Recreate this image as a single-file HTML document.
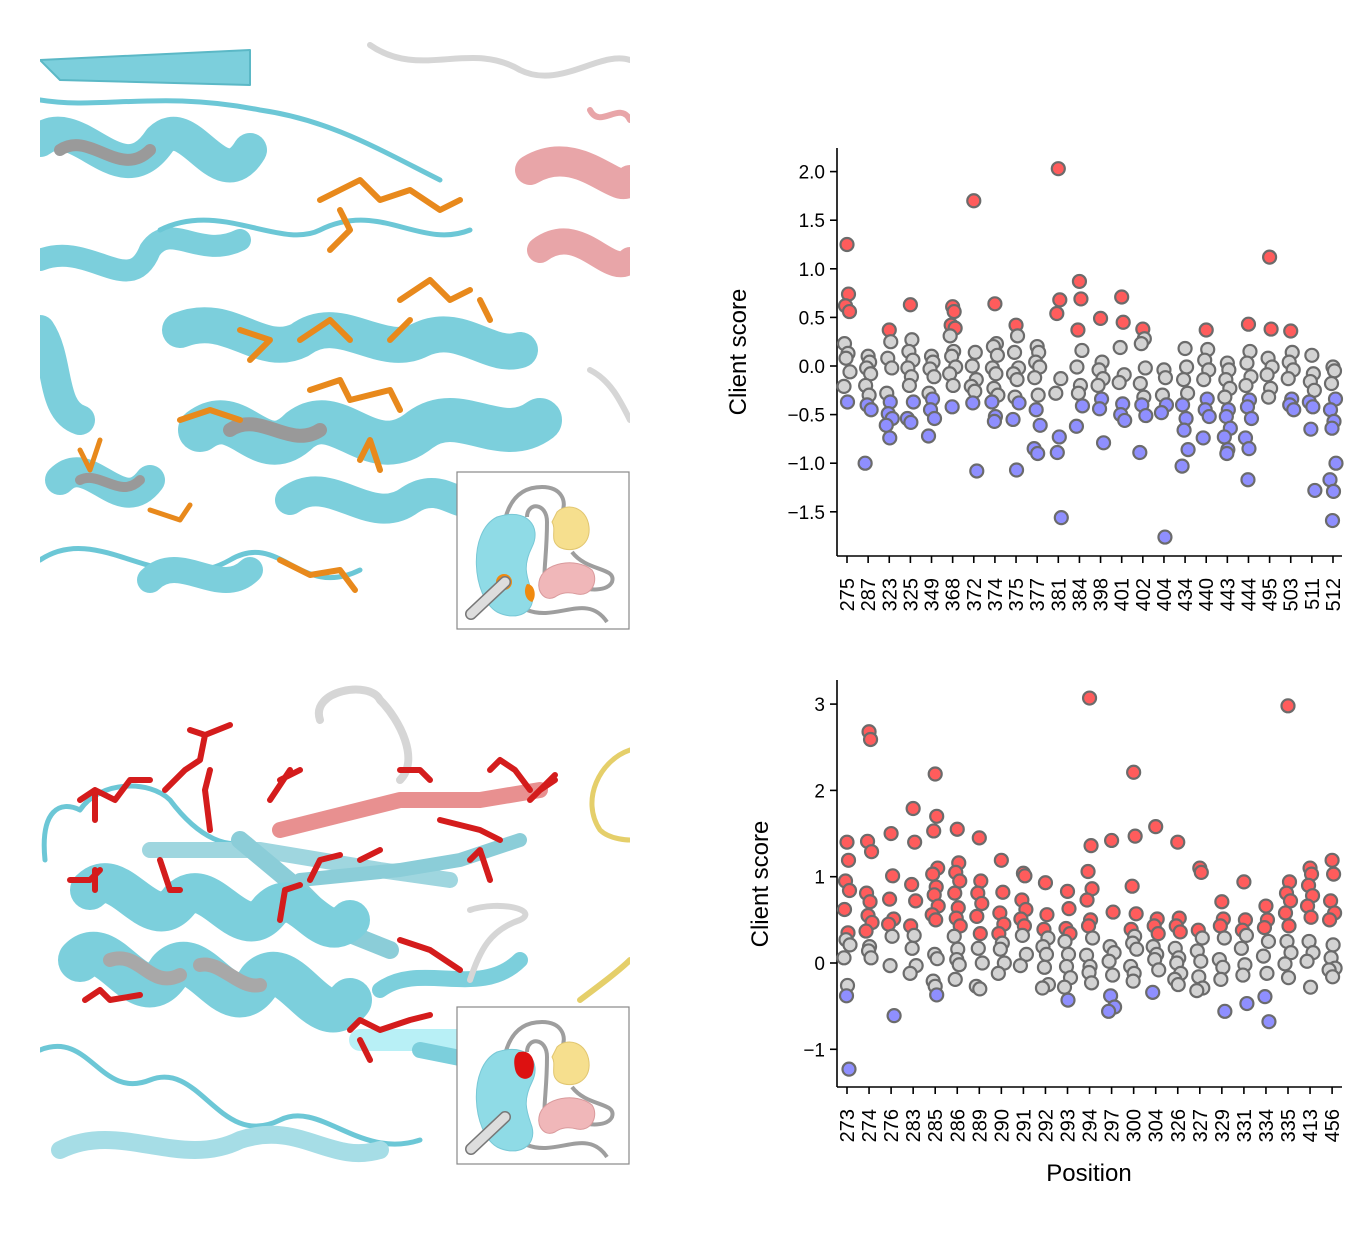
<!DOCTYPE html>
<html><head><meta charset="utf-8">
<style>
html,body{margin:0;padding:0;background:#fff;}
svg{display:block;font-family:"Liberation Sans","DejaVu Sans",sans-serif;}
</style></head>
<body>
<svg id="fig" width="1370" height="1244" viewBox="0 0 1370 1244" xmlns="http://www.w3.org/2000/svg">
<defs>
<clipPath id="clipTop"><rect x="40" y="40" width="590" height="590"/></clipPath>
<clipPath id="clipBot"><rect x="40" y="675" width="590" height="490"/></clipPath>
</defs>

<!-- Top protein panel -->
<g clip-path="url(#clipTop)" fill="none" stroke-linecap="round" stroke-linejoin="round">
  <path d="M40 60 L250 50 L250 85 L60 80 Z" fill="#7ccfdc" stroke="#5bb8c6" stroke-width="2"/>
  <path d="M370 45 C420 80 470 40 520 70 C560 90 600 50 630 60" stroke="#d6d6d6" stroke-width="6"/>
  <path d="M40 140 C80 110 120 200 160 140 C190 110 220 200 250 150" stroke="#7ccfdc" stroke-width="34"/>
  <path d="M60 150 C90 130 120 180 150 150" stroke="#9a9a9a" stroke-width="12"/>
  <path d="M40 100 C100 110 160 90 260 110 C330 120 380 150 440 180" stroke="#6cc7d6" stroke-width="5"/>
  <path d="M40 260 C90 240 130 300 150 250 C170 220 200 260 240 240" stroke="#7ccfdc" stroke-width="22"/>
  <path d="M160 230 C220 200 280 250 320 230 C380 200 420 250 470 230" stroke="#6cc7d6" stroke-width="5"/>
  <path d="M40 330 C60 360 50 410 80 420" stroke="#7ccfdc" stroke-width="30"/>
  <path d="M180 330 C230 310 260 360 300 340 C340 310 380 360 420 340 C460 320 490 360 520 350" stroke="#7ccfdc" stroke-width="36"/>
  <path d="M200 430 C240 400 260 470 300 430 C340 400 370 470 420 430 C460 400 500 450 540 420" stroke="#7ccfdc" stroke-width="44"/>
  <path d="M230 430 C260 410 290 450 320 430" stroke="#999" stroke-width="14"/>
  <path d="M60 480 C90 450 120 520 150 480" stroke="#7ccfdc" stroke-width="30"/>
  <path d="M80 480 C100 470 120 500 140 480" stroke="#999" stroke-width="10"/>
  <path d="M290 500 C330 470 370 530 410 500 C440 480 460 510 470 500" stroke="#7ccfdc" stroke-width="30"/>
  <path d="M40 560 C100 520 160 600 230 560 C280 530 300 600 360 570" stroke="#6cc7d6" stroke-width="5"/>
  <path d="M150 580 C180 550 220 600 250 570" stroke="#7ccfdc" stroke-width="26"/>
  <path d="M530 170 C580 140 620 200 630 180" stroke="#e8a5a8" stroke-width="30"/>
  <path d="M540 250 C580 220 610 280 630 260" stroke="#e8a5a8" stroke-width="26"/>
  <path d="M590 110 C600 130 620 100 630 120" stroke="#e8a5a8" stroke-width="6"/>
  <path d="M590 370 C610 380 620 400 630 420" stroke="#d6d6d6" stroke-width="6"/>
  <path d="M320 200 L360 180 L380 200 L410 190 L440 210 L460 200 M330 250 L350 230 L340 210 M400 300 L430 280 L450 300 L470 290 M300 340 L330 320 L350 340 M250 360 L270 340 L240 330 M310 390 L340 380 L350 400 L390 390 L400 410 M180 420 L210 410 L240 420 M360 460 L370 440 L380 470 M280 560 L310 575 L340 570 L355 590 M390 340 L410 320 M480 300 L490 320" stroke="#e8891c" stroke-width="6"/>
  <path d="M80 450 L90 470 L100 440 M150 510 L180 520 L190 505" stroke="#e8891c" stroke-width="5"/>
</g>

<!-- Top inset -->
<g transform="translate(457,472)">
  <rect x="0" y="0" width="172" height="157" fill="#fff" stroke="#888" stroke-width="1.2"/>
  <path d="M45 110 C40 40 55 15 85 15 C105 15 110 30 105 40 M70 45 C70 30 90 30 90 50 C90 100 80 120 100 110 M115 80 C130 100 160 95 155 110 C150 120 130 118 125 115 M70 138 C100 150 130 120 150 150" fill="none" stroke="#9e9e9e" stroke-width="4"/>
  <path d="M40 45 C70 35 85 55 75 75 C65 95 70 105 75 120 C80 140 60 150 40 140 C15 125 10 60 40 45 Z" fill="#8fdbe6" stroke="#78c8d6" stroke-width="1"/>
  <path d="M100 40 C110 30 130 35 132 55 C134 75 115 82 102 75 C92 68 100 58 95 50 Z" fill="#f6df8e" stroke="#e1c670"/>
  <path d="M82 110 C85 90 120 85 135 98 C142 108 135 125 120 122 C112 120 105 120 98 125 C88 130 80 120 82 110 Z" fill="#f0b7b9" stroke="#d99a9c"/>
  <circle cx="47" cy="110" r="8" fill="#f08a10"/>
  <path d="M70 112 C78 112 80 125 75 130 C68 128 66 118 70 112 Z" fill="#f08a10"/>
  <path d="M48 110 L14 142" stroke="#777" stroke-width="12" stroke-linecap="round"/>
  <path d="M48 110 L14 142" stroke="#ddd" stroke-width="9" stroke-linecap="round"/>
</g>

<!-- Bottom protein panel -->
<g clip-path="url(#clipBot)" fill="none" stroke-linecap="round" stroke-linejoin="round">
  <path d="M320 720 C310 690 370 680 380 700 C400 720 420 760 400 780" stroke="#d6d6d6" stroke-width="8"/>
  <path d="M45 860 C40 810 60 800 80 810 C100 780 150 780 170 800 C200 840 230 850 250 840" stroke="#6cc7d6" stroke-width="5"/>
  <path d="M150 850 L260 850 L380 870 L450 880" stroke="#9fd6df" stroke-width="16"/>
  <path d="M240 840 L300 890 L340 930 L390 950" stroke="#8bcdd8" stroke-width="18"/>
  <path d="M280 830 L400 800 L480 800 L540 790" stroke="#e89090" stroke-width="16"/>
  <path d="M300 880 L400 870 L460 860 L520 840" stroke="#8bcdd8" stroke-width="14"/>
  <path d="M90 890 C120 860 150 940 180 900 C210 870 240 950 270 910 C300 880 320 950 350 920" stroke="#7ccfdc" stroke-width="40"/>
  <path d="M80 960 C110 930 140 1020 170 970 C200 940 230 1030 260 980 C290 950 320 1040 350 1000" stroke="#7ccfdc" stroke-width="44"/>
  <path d="M110 960 C140 950 150 990 180 975 M200 965 C220 960 240 990 260 985" stroke="#a8a8a8" stroke-width="14"/>
  <path d="M360 1040 L460 1040" stroke="#b8f0f6" stroke-width="22"/>
  <path d="M40 1050 C90 1030 100 1100 150 1080 C200 1060 220 1150 280 1120 C320 1100 360 1160 420 1140" stroke="#6cc7d6" stroke-width="5"/>
  <path d="M60 1150 C120 1120 180 1170 240 1140 C300 1120 330 1165 380 1150" stroke="#a6dde6" stroke-width="18"/>
  <path d="M420 1050 L470 1060 M380 990 C420 960 480 1000 520 960" stroke="#7ccfdc" stroke-width="16"/>
  <path d="M470 910 C500 900 540 910 520 920 C490 930 480 950 470 980" stroke="#d6d6d6" stroke-width="6"/>
  <path d="M630 750 C600 760 580 800 600 830 C610 840 630 840 630 840" stroke="#e5cf6a" stroke-width="5"/>
  <path d="M580 1000 C600 985 620 970 630 960" stroke="#e5cf6a" stroke-width="6"/>
  <g stroke="#d41c1c" stroke-width="6">
    <path d="M80 800 L95 790 L115 800 L130 780 L150 780 M95 790 L95 820"/>
    <path d="M165 790 L185 770 L200 760 L205 735 L230 725 M205 735 L190 730"/>
    <path d="M210 830 L205 790 L210 770 M270 800 L290 770 M280 780 L300 770"/>
    <path d="M70 880 L90 880 L100 870 M95 870 L95 890 M160 860 L170 890 L180 890"/>
    <path d="M280 920 L285 890 L300 885 M310 880 L320 860 L340 855 M360 860 L380 850 M400 770 L420 770 L430 780"/>
    <path d="M490 770 L500 760 L515 770 L530 790 M440 820 L480 830 L500 840 M470 860 L480 850 L490 880 M400 940 L430 950 L460 970"/>
    <path d="M85 1000 L100 990 L110 1000 L140 995 M350 1030 L360 1020 L380 1030 L410 1020 L430 1015 M360 1040 L370 1060"/>
    <path d="M540 790 L555 780 M530 800 L555 775"/>
  </g>
</g>

<!-- Bottom inset -->
<g transform="translate(457,1007)">
  <rect x="0" y="0" width="172" height="157" fill="#fff" stroke="#888" stroke-width="1.2"/>
  <path d="M45 110 C40 40 55 15 85 15 C105 15 110 30 105 40 M70 45 C70 30 90 30 90 50 C90 100 80 120 100 110 M115 80 C130 100 160 95 155 110 C150 120 130 118 125 115 M70 138 C100 150 130 120 150 150" fill="none" stroke="#9e9e9e" stroke-width="4"/>
  <path d="M40 45 C70 35 85 55 75 75 C65 95 70 105 75 120 C80 140 60 150 40 140 C15 125 10 60 40 45 Z" fill="#8fdbe6" stroke="#78c8d6" stroke-width="1"/>
  <path d="M100 40 C110 30 130 35 132 55 C134 75 115 82 102 75 C92 68 100 58 95 50 Z" fill="#f6df8e" stroke="#e1c670"/>
  <path d="M82 110 C85 90 120 85 135 98 C142 108 135 125 120 122 C112 120 105 120 98 125 C88 130 80 120 82 110 Z" fill="#f0b7b9" stroke="#d99a9c"/>
  <path d="M62 45 C75 42 80 55 75 68 C70 75 60 72 58 62 C56 52 58 47 62 45 Z" fill="#dd1111"/>
  <path d="M48 110 L14 142" stroke="#777" stroke-width="12" stroke-linecap="round"/>
  <path d="M48 110 L14 142" stroke="#ddd" stroke-width="9" stroke-linecap="round"/>
</g>

<g id="chartTop"></g>
<g id="chartBot"></g>
</svg>

<script>
const topCategories = ["275","287","323","325","349","368","372","374","375","377","381","384","398","401","402","404","434","440","443","444","495","503","511","512"];
const topValues = [
 [1.25,0.74,0.62,0.56,0.23,0.13,0.08,-0.06,-0.21,-0.37],
 [0.10,0.04,-0.02,-0.08,-0.2,-0.3,-0.40,-0.45,-1.0],
 [0.37,0.25,0.08,-0.02,-0.28,-0.37,-0.49,-0.54,-0.61,-0.74],
 [0.63,0.27,0.15,0.06,-0.02,-0.11,-0.2,-0.37,-0.54,-0.58],
 [0.1,0.04,-0.03,-0.11,-0.28,-0.34,-0.45,-0.54,-0.72],
 [0.61,0.56,0.42,0.39,0.31,0.15,0.1,-0.01,-0.08,-0.2,-0.42],
 [1.70,0.14,0,-0.14,-0.21,-0.26,-0.38,-1.08],
 [0.64,0.23,0.2,0.11,-0.02,-0.08,-0.23,-0.3,-0.37,-0.52,-0.57],
 [0.42,0.31,0.14,-0.02,-0.08,-0.14,-0.32,-0.38,-0.55,-1.07],
 [0.2,0.14,0.04,-0.01,-0.12,-0.3,-0.45,-0.61,-0.85,-0.9],
 [2.03,0.68,0.54,-0.13,-0.28,-0.73,-0.89,-1.56],
 [0.87,0.69,0.37,0.16,-0.01,-0.2,-0.28,-0.41,-0.62],
 [0.49,0.04,-0.04,-0.13,-0.2,-0.34,-0.44,-0.79],
 [0.71,0.45,0.19,-0.09,-0.17,-0.39,-0.5,-0.56],
 [0.38,0.28,0.23,-0.02,-0.18,-0.32,-0.4,-0.51,-0.89],
 [-0.04,-0.12,-0.3,-0.4,-0.48,-1.76],
 [0.18,-0.01,-0.14,-0.28,-0.4,-0.54,-0.66,-0.86,-1.03],
 [0.37,0.17,0.06,-0.04,-0.14,-0.34,-0.45,-0.52,-0.74],
 [0.03,-0.04,-0.14,-0.23,-0.32,-0.45,-0.52,-0.64,-0.73,-0.86,-0.9],
 [0.43,0.15,0.03,-0.11,-0.2,-0.35,-0.42,-0.54,-0.74,-0.85,-1.17],
 [1.12,0.38,0.08,-0.01,-0.09,-0.23,-0.32],
 [0.36,0.14,0.04,-0.04,-0.13,-0.34,-0.4,-0.45],
 [0.11,-0.08,-0.16,-0.25,-0.37,-0.42,-0.65,-1.28],
 [-0.01,-0.05,-0.18,-0.34,-0.45,-0.57,-0.64,-1.0,-1.17,-1.29,-1.59]
];
const topTicks = [-1.5,-1.0,-0.5,0.0,0.5,1.0,1.5,2.0];
const topTickLabels = ["\u22121.5","\u22121.0","\u22120.5","0.0","0.5","1.0","1.5","2.0"];

const botCategories = ["273","274","276","283","285","286","289","290","291","292","293","294","297","300","304","326","327","329","331","334","335","413","456"];
const botValues = [
 [1.40,1.19,0.95,0.84,0.62,0.35,0.27,0.21,0.06,-0.26,-0.38,-1.23],
 [2.68,2.59,1.41,1.29,0.81,0.71,0.55,0.47,0.37,0.19,0.14,0.06],
 [1.50,1.01,0.74,0.51,0.45,0.31,-0.03,-0.61],
 [1.79,1.40,0.91,0.72,0.43,0.32,0.17,-0.03,-0.12],
 [2.19,1.70,1.53,1.10,1.03,0.88,0.79,0.66,0.56,0.50,0.10,0.05,-0.21,-0.27,-0.37],
 [1.55,1.16,1.05,0.95,0.81,0.64,0.52,0.43,0.31,0.16,0.04,-0.02,-0.19],
 [1.45,0.95,0.81,0.69,0.54,0.34,0.17,0,-0.27,-0.3],
 [1.19,0.82,0.58,0.45,0.34,0.23,0.16,0,-0.12],
 [1.04,1.01,0.73,0.62,0.51,0.43,0.32,0.10,-0.03],
 [0.93,0.56,0.39,0.29,0.19,0.10,-0.05,-0.25,-0.29],
 [0.83,0.63,0.40,0.34,0.25,0.10,-0.04,-0.17,-0.28,-0.43],
 [3.07,1.36,1.06,0.86,0.73,0.50,0.43,0.29,0.09,-0.04,-0.11,-0.23],
 [1.42,0.59,0.19,0.12,0.02,-0.14,-0.38,-0.51,-0.56],
 [2.21,1.47,0.89,0.57,0.39,0.31,0.23,0.16,-0.04,-0.12,-0.21],
 [1.58,0.51,0.43,0.34,0.19,0.10,0.04,-0.08,-0.34],
 [1.40,0.52,0.43,0.36,0.17,0.06,0,-0.12,-0.19,-0.25],
 [1.10,1.05,0.38,0.29,0.14,0.02,-0.16,-0.29,-0.32],
 [0.71,0.51,0.43,0.29,0.04,-0.05,-0.19,-0.56],
 [0.94,0.50,0.38,0.32,0.17,-0.02,-0.14,-0.47],
 [0.66,0.50,0.41,0.25,0.08,-0.12,-0.39,-0.68],
 [2.98,0.94,0.81,0.72,0.58,0.43,0.25,0.12,-0.01,-0.17],
 [1.10,1.03,0.90,0.78,0.66,0.53,0.25,0.12,0.02,-0.28],
 [1.19,1.03,0.72,0.58,0.50,0.21,0.06,-0.06,-0.08,-0.16]
];
const botTicks = [-1,0,1,2,3];
const botTickLabels = ["\u22121","0","1","2","3"];

const NS = "http://www.w3.org/2000/svg";
function mk(tag, attrs, parent){
  const e = document.createElementNS(NS, tag);
  for (const k in attrs) e.setAttribute(k, attrs[k]);
  parent.appendChild(e);
  return e;
}
const jitter = [0,1.5,-1.5,2.5,-2.5,1,-1,3,-3,0.5,-0.5,2,-2,0,1.5,-1.5];
function colorFor(v){ return v > 0.33 ? "#ff5c5c" : (v < -0.33 ? "#8f8fff" : "#d3d3d3"); }

function drawChart(g, cats, vals, ticks, tickLabels, cfg){
  const y = v => cfg.y0 - (v - cfg.v0) * cfg.pxPerUnit;
  const x = i => cfg.xStart + i * cfg.xStep;
  const ya = mk("line", {x1:cfg.axisX, y1:cfg.axisTop, x2:cfg.axisX, y2:cfg.axisBottom, stroke:"#000", "stroke-width":1.6}, g);
  
  
  const xa = mk("line", {x1:cfg.axisX, y1:cfg.axisBottom, x2:cfg.axisRight, y2:cfg.axisBottom, stroke:"#000", "stroke-width":1.6}, g);
  
  
  ticks.forEach((t, i) => {
    const ty = y(t);
    const tl = mk("line", {x1:cfg.axisX-7, y1:ty, x2:cfg.axisX, y2:ty, stroke:"#000", "stroke-width":1.6}, g);
    
    
    const tx = mk("text", {x:cfg.axisX-12, y:ty+7, "text-anchor":"end", "font-size":19, fill:"#000"}, g);
    tx.textContent = tickLabels[i];
    
    
  });
  cats.forEach((c, i) => {
    const cx = x(i);
    const tl = mk("line", {x1:cx, y1:cfg.axisBottom, x2:cx, y2:cfg.axisBottom+7, stroke:"#000", "stroke-width":1.6}, g);
    
    
    const tx = mk("text", {x:0, y:0, "text-anchor":"end", "font-size":20, fill:"#000",
      transform:`translate(${cx+7},${cfg.axisBottom+22}) rotate(-90)`}, g);
    tx.textContent = c;
    
    
  });
  vals.forEach((arr, i) => {
    arr.forEach((v, j) => {
      const p = mk("circle", {cx: x(i) + jitter[j % jitter.length], cy: y(v), r: 6.5,
        fill: colorFor(v), stroke: "#6b6b6b", "stroke-width": 2.2}, g);
      
      
    });
  });
  const yt = mk("text", {x:0, y:0, "text-anchor":"middle", "font-size":24, fill:"#000",
    transform:`translate(${cfg.yTitleX},${cfg.yTitleY}) rotate(-90)`}, g);
  yt.textContent = "Client score";
  
  
}

drawChart(document.getElementById("chartTop"), topCategories, topValues, topTicks, topTickLabels,
  {y0:366, v0:0, pxPerUnit:97.2, xStart:847, xStep:21.13, axisX:837, axisTop:148, axisBottom:556, axisRight:1342, yTitleX:746, yTitleY:352});
drawChart(document.getElementById("chartBot"), botCategories, botValues, botTicks, botTickLabels,
  {y0:963, v0:0, pxPerUnit:86.3, xStart:847, xStep:22.05, axisX:837, axisTop:680, axisBottom:1087, axisRight:1342, yTitleX:768, yTitleY:884});

const xt = mk("text", {x:1089, y:1181, "text-anchor":"middle", "font-size":24, fill:"#000"}, document.getElementById("chartBot"));
xt.textContent = "Position";


</script>
</body></html>
